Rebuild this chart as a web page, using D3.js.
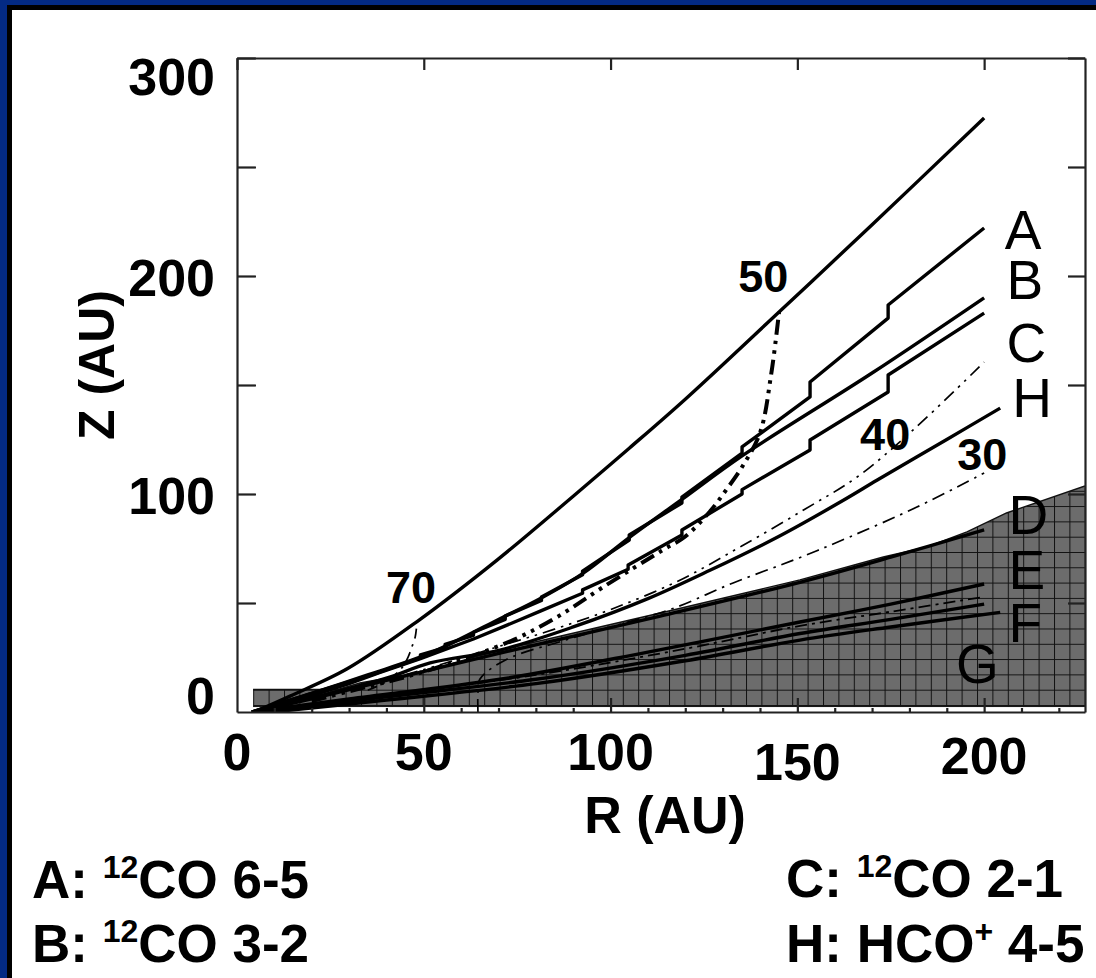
<!DOCTYPE html>
<html>
<head>
<meta charset="utf-8">
<script src="https://cdn.jsdelivr.net/npm/d3@7"></script>
<style>
  html, body { margin: 0; padding: 0; background: #fff; }
  svg { display: block; }
  text { font-family: "Liberation Sans", Arial, Helvetica, sans-serif; fill: #000; }
</style>
</head>
<body>
<svg id="chart" width="1096" height="978"></svg>
<script>
// ---- data: emission surfaces, R and Z in AU ----
const surfaceTop = [[4,-0.5],[14.2,7.3],[29.5,19.8],[48.2,41.5],[69.6,69.7],[90,99],[105,121],[120,143.5],[145.1,183.5],[170,223.5],[200,272.5]];

// A: 12CO 6-5 (stepped, follows the radial grid)
const lineA = [[4,0],[20,8.5],[35,16.5],[49.1,24.8],[49.1,26.2],[55.7,29.5],[55.7,31],[63.3,35.2],[63.3,36.6],[71.8,42.5],[71.8,44],
  [81.5,51.2],[81.5,52.8],[92.5,63],[92.5,64.6],[105,78.9],[105,81.2],[119.1,95.9],[119.1,98.6],[135.2,118.8],[135.2,121.6],
  [153.4,144.5],[153.4,151.4],[174.3,180.7],[174.3,186.7],[200,222]];
// B: 12CO 3-2
const lineB = [[4,0],[20,8.5],[35,17],[51.7,27],[71.2,43.5],[81.1,52],[92.5,63.5],[105,80],[119.1,97.5],[135.2,117.5],[170,155.5],[200,190]];
// C: 12CO 2-1 (stepped)
const lineC = [[4,0],[20,7.5],[30,13],[38.1,18],[49.1,24.5],[63.3,33.5],[71.8,39.5],[81.5,46.5],[92.5,54.5],[92.5,56],[104.7,65.5],[104.7,67.4],
  [119.1,81.2],[119.1,83.5],[135.2,100],[135.2,102],[153.4,120.2],[153.4,124.8],[174.3,146.8],[174.3,154.6],[200,183]];
// H: HCO+ 4-5
const lineH = [[4,0],[20,6.5],[40,15.5],[51.7,22.5],[70.4,28.4],[90,39],[110,52],[126.6,65],[145,80.5],[162.2,97],[171.4,106.4],[190,125],[204.3,139.4]];
// D, E, F, G
const lineD = [[4,0],[20,6],[40,14.5],[70.4,27],[113.3,44],[150.7,59.5],[175,71],[200,83.5]];
const lineE = [[4,0],[30,6],[70.4,15],[110,27.5],[150.7,41.3],[175,49.5],[200,58.7]];
const lineEF = [[4,0],[40,8],[80,17],[120,29],[150.7,39.5],[175,46],[200,52.8]];
const lineF = [[4,-0.5],[40,7],[80,15],[120,26],[150.7,36],[175,42.5],[200,49.5]];
const lineG = [[4,-1],[40,5.5],[80,13],[120,23.5],[150.7,33],[175,39],[204.3,45.7]];

// temperature contours (K)
const contour70 = [[35,10],[40,14],[44,20],[45.8,25.2],[46.8,29.8],[47.7,34.4],[48.2,41.5]];
const contour50 = [[20,5],[30,9.5],[45,16],[60,24],[73.9,33],[85.7,43.6],[98,57.3],[114,74.3],[120,80.5],[126.6,92],[131,102],[135.2,112.4],[140,128],[143,155],[145.1,183.5]];
const contour40 = [[45,17],[55,22],[70,30],[85,38],[100,47],[118,60],[135,76],[152,93],[166,107.8],[181,129.4],[200,160.5]];
const contour30 = [[64.5,0],[64.5,9],[65,15],[72,24],[88,33],[100,39],[116.7,47.5],[132.8,59.2],[149,69.7],[164,80.3],[182,94],[200,109.6]];

// upper edge of the shaded region
const shadedTop = [[4.3,10.3],[27,10.3],[32.9,13.3],[49,18.3],[70.4,28.4],[113.3,45.4],[150.7,60.6],[173,71.1],[184.7,75.7],[195.4,82.6],[206,91.3],[227,103.7]];
const shadedBase = 2.5;

// ticks and labels
const yTickValues = [50, 100, 150, 200, 250, 300];
const yLabelValues = [0, 100, 200, 300];
const xTickValues = [50, 100, 150, 200];
const xLabelValues = [0, 50, 100, 150, 200];
const xLabelDrop = [0, 0, 0, 10, 4];
const xMinorTicks = [10,20,30,40,60,70,80,90,110,120,130,140,160,170,180,190,210,220];

const curveLabels = [
  {t:"A", r:205.5, z:212.5}, {t:"B", r:206, z:189.5}, {t:"C", r:206, z:160.5},
  {t:"H", r:207.5, z:135.5}, {t:"D", r:206.5, z:81.5}, {t:"E", r:206.5, z:56.5},
  {t:"F", r:206.5, z:32}, {t:"G", r:192.5, z:13.5}
];
const contourLabels = [
  {t:"70", r:46.6, z:50}, {t:"50", r:140.9, z:192.5}, {t:"40", r:173.5, z:120}, {t:"30", r:199.5, z:111}
];

// ---- drawing ----
const svg = d3.select("#chart");
const W = 1096, H = 978;

svg.append("rect").attr("width", W).attr("height", H).attr("fill", "#fff");
// slide frame
svg.append("rect").attr("x", 0).attr("y", 0).attr("width", 7).attr("height", H).attr("fill", "#032a84");
svg.append("rect").attr("x", 0).attr("y", 0).attr("width", W).attr("height", 5).attr("fill", "#032a84");
svg.append("rect").attr("x", 7).attr("y", 5).attr("width", 5).attr("height", H).attr("fill", "#000");
svg.append("rect").attr("x", 7).attr("y", 5).attr("width", W).attr("height", 5).attr("fill", "#000");

const x = d3.scaleLinear().domain([0, 227]).range([237, 1085]);
const y = d3.scaleLinear().domain([0, 300]).range([712, 58]);

const defs = svg.append("defs");
defs.append("clipPath").attr("id", "plotClip")
  .append("rect").attr("x", x(0)).attr("y", y(300)).attr("width", x(227) - x(0)).attr("height", y(0) - y(300));

const pat = defs.append("pattern").attr("id", "hatch")
  .attr("patternUnits", "userSpaceOnUse")
  .attr("x", 6.8).attr("y", 1.2).attr("width", 15.4).attr("height", 15.3);
pat.append("rect").attr("width", 15.4).attr("height", 15.3).attr("fill", "#6c6c6c");
pat.append("path").attr("d", "M0,0.5H15.4M0.5,0V15.3").attr("stroke", "#111").attr("stroke-width", 1).attr("fill", "none");

const plot = svg.append("g").attr("clip-path", "url(#plotClip)");

// shaded disk interior
const area = d3.area().x(d => x(d[0])).y0(y(shadedBase)).y1(d => y(d[1]));
plot.append("path").datum(shadedTop).attr("d", area).attr("fill", "url(#hatch)");
plot.append("path").datum(shadedTop)
  .attr("d", d3.line().x(d => x(d[0])).y(d => y(d[1])))
  .attr("fill", "none").attr("stroke", "#111").attr("stroke-width", 1.4);
plot.append("line").attr("x1", x(shadedTop[0][0])).attr("x2", x(227))
  .attr("y1", y(shadedBase)).attr("y2", y(shadedBase)).attr("stroke", "#111").attr("stroke-width", 1);

const smooth = d3.line().x(d => x(d[0])).y(d => y(d[1])).curve(d3.curveCatmullRom.alpha(0.5));
const stepped = d3.line().x(d => x(d[0])).y(d => y(d[1]));

function draw(data, gen, width, dash) {
  plot.append("path").datum(data).attr("d", gen)
    .attr("fill", "none").attr("stroke", "#000").attr("stroke-width", width)
    .attr("stroke-linejoin", "round").attr("stroke-linecap", "butt")
    .attr("stroke-dasharray", dash || null);
}

// lines inside the shaded region
draw(lineG, smooth, 3.4);
draw(lineF, smooth, 3.4);
draw(lineEF, smooth, 1.8, "12,5,3,5");
draw(lineE, smooth, 3.4);
draw(lineD, smooth, 3.4);

// temperature contours
draw(contour30, smooth, 1.7, "13,6,2.5,6");
draw(contour40, smooth, 1.7, "13,6,2.5,6,2.5,6");
draw(contour70, smooth, 1.7, "10,6,2.5,6");
draw(contour50, smooth, 4, "15,6,3.5,6,3.5,6");

// emission surfaces
draw(lineH, smooth, 3.4);
draw(lineC, stepped, 3.4);
draw(lineB, smooth, 3.4);
draw(lineA, stepped, 3.4);
draw(surfaceTop, smooth, 3.4);

// ---- axes ----
const axisStyle = g => {
  g.select(".domain").attr("stroke", "#222").attr("stroke-width", 2.2);
  g.selectAll(".tick line").attr("stroke", "#222").attr("stroke-width", 2.2);
  g.selectAll(".tick text").remove();
};
svg.append("g").attr("transform", `translate(${x(0)},0)`)
  .call(d3.axisLeft(y).tickValues(yTickValues).tickSize(-19).tickSizeOuter(0)).call(axisStyle);
svg.append("g").attr("transform", `translate(${x(227)},0)`)
  .call(d3.axisRight(y).tickValues(yTickValues).tickSize(-17).tickSizeOuter(0)).call(axisStyle);
svg.append("g").attr("transform", `translate(0,${y(300)})`)
  .call(d3.axisTop(x).tickValues([0].concat(xTickValues)).tickSize(-12).tickSizeOuter(0)).call(axisStyle);
svg.append("g").attr("transform", `translate(0,${y(0)})`)
  .call(d3.axisBottom(x).tickValues(xTickValues).tickSize(-14).tickSizeOuter(0)).call(axisStyle);
svg.append("g").attr("transform", `translate(0,${y(0)})`)
  .call(d3.axisBottom(x).tickValues(xMinorTicks).tickSize(-4).tickSizeOuter(0)).call(axisStyle)
  .select(".domain").remove();

// tick labels
svg.append("g").selectAll("text").data(yLabelValues).join("text")
  .attr("x", 215)
  .attr("y", d => Math.min(Math.max(y(d) + 20, 95), 714))
  .attr("text-anchor", "end").attr("font-size", 52).attr("font-weight", "bold")
  .text(d => d);
svg.append("g").selectAll("text").data(xLabelValues).join("text")
  .attr("x", d => x(d)).attr("y", (d, i) => 770 + xLabelDrop[i])
  .attr("text-anchor", "middle").attr("font-size", 52).attr("font-weight", "bold")
  .text(d => d);

// axis titles
svg.append("text").attr("x", 665).attr("y", 833).attr("text-anchor", "middle")
  .attr("font-size", 52).attr("font-weight", "bold").text("R (AU)");
svg.append("text").attr("transform", "translate(114,365) rotate(-90)").attr("text-anchor", "middle")
  .attr("font-size", 50).attr("font-weight", "bold").text("Z (AU)");

// curve and contour labels
svg.append("g").selectAll("text").data(curveLabels).join("text")
  .attr("x", d => x(d.r)).attr("y", d => y(d.z))
  .attr("font-size", 55).text(d => d.t);
svg.append("g").selectAll("text").data(contourLabels).join("text")
  .attr("x", d => x(d.r)).attr("y", d => y(d.z)).attr("text-anchor", "middle")
  .attr("font-size", 45).attr("font-weight", "bold").text(d => d.t);

// line key
const key = [
  {x: 32, y: 898, pre: "A: ", sup: "12", post: "CO 6-5"},
  {x: 32, y: 962, pre: "B: ", sup: "12", post: "CO 3-2"},
  {x: 786, y: 897, pre: "C: ", sup: "12", post: "CO 2-1"},
  {x: 786, y: 962, pre: "H: HCO", sup: "+", post: " 4-5"}
];
key.forEach(k => {
  const t = svg.append("text").attr("x", k.x).attr("y", k.y)
    .attr("font-size", 53).attr("font-weight", "bold");
  t.append("tspan").text(k.pre);
  t.append("tspan").attr("font-size", 32).attr("dy", -20).text(k.sup);
  t.append("tspan").attr("dy", 20).text(k.post);
});
</script>
</body>
</html>
